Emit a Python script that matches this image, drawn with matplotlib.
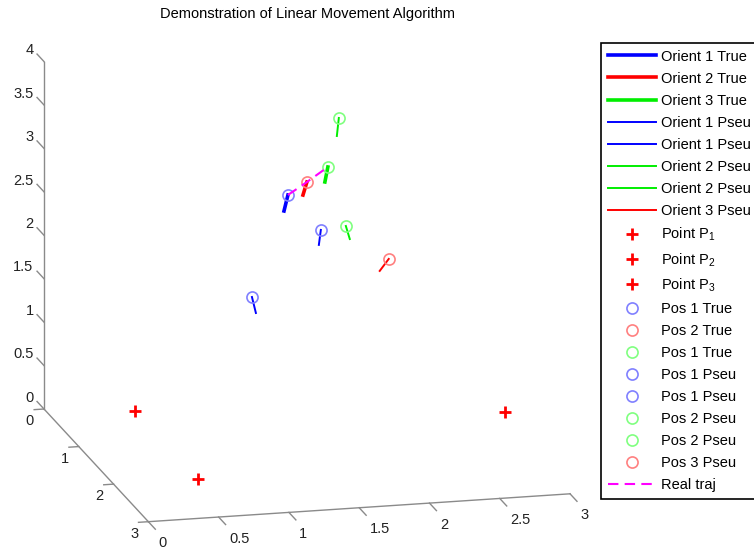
import numpy as np
import matplotlib
matplotlib.use('Agg')
from matplotlib import pyplot as plt
from mpl_toolkits.mplot3d import proj3d

plt.rcParams['font.family'] = ['Liberation Sans', 'DejaVu Sans']
plt.rcParams['mathtext.default'] = 'regular'

W, H = 754, 550

# positions (circle) and orientation tips, same order as the legend
posLabels = ['Pos 1 True', 'Pos 2 True', 'Pos 1 True', 'Pos 1 Pseu', 'Pos 1 Pseu',
             'Pos 2 Pseu', 'Pos 2 Pseu', 'Pos 3 Pseu']
orientLabels = ['Orient 1 True', 'Orient 2 True', 'Orient 3 True', 'Orient 1 Pseu',
                'Orient 1 Pseu', 'Orient 2 Pseu', 'Orient 2 Pseu', 'Orient 3 Pseu']
posColors = ['b', 'r', 'g', 'b', 'b', 'g', 'g', 'r']
posX = [1.488, 1.623, 1.772, 1.722, 1.232, 1.850, 1.900, 2.205]
posY = [1.0, 1.0, 1.0, 1.0, 1.0, 1.0, 1.0, 1.0]
posZ = [2.737, 2.872, 3.029, 2.310, 1.590, 3.585, 2.336, 1.924]
orientDX = [-0.028, -0.028, -0.021, -0.014, 0.028, -0.014, 0.028, -0.064]
orientDZ = [-0.181, -0.147, -0.170, -0.171, -0.187, -0.206, -0.153, -0.131]
isTrue = [True, True, True, False, False, False, False, False]

pointLabels = ['Point P$_1$', 'Point P$_2$', 'Point P$_3$']
pointX = [0.6, 0.6, 3.07]
pointY = [0.2, 2.0, 0.84]
pointZ = [0.0, 0.0, 0.0]

xTicks = [0, 0.5, 1, 1.5, 2, 2.5, 3]
xTickLabels = ['0', '0.5', '1', '1.5', '2', '2.5', '3']
yTicks = [0, 1, 2, 3]
zTicks = [0, 0.5, 1, 1.5, 2, 2.5, 3, 3.5, 4]
zTickLabels = ['0', '0.5', '1', '1.5', '2', '2.5', '3', '3.5', '4']

paleColors = {'b': '#8080ff', 'r': '#ff8080', 'g': '#80ff80'}
fullColors = {'b': '#0000ff', 'r': '#ff0000', 'g': '#00ee00'}

fig = plt.figure(figsize=(W / 100, H / 100), dpi=100)
ax = fig.add_axes([0.05, 0.05, 0.7, 0.9], projection='3d', proj_type='ortho')
ax.view_init(elev=-15.5, azim=-76.1, roll=0)
ax.set_box_aspect((1, 1, 0.83))
ax.set_xlim(0, 3)
ax.set_ylim(0, 3)
ax.set_zlim(0, 4)
ax.set_xticks([])
ax.set_yticks([])
ax.set_zticks([])
ax.set_axis_off()

# hand drawn axes, matlab style
axCol = '#8a8a8a'
tickCol = '#222222'
ax.plot([0, 3], [3, 3], [0, 0], color=axCol, lw=1)
ax.plot([0, 0], [0, 3], [0, 0], color=axCol, lw=1)
ax.plot([0, 0], [0, 0], [0, 4], color=axCol, lw=1)
for xv, xl in zip(xTicks, xTickLabels):
    ax.plot([xv, xv], [3, 3.2], [0, 0], color=axCol, lw=1)
    ax.text(xv, 3.3, -0.12, xl, ha='left', va='center', fontsize=10.5, color=tickCol)
for yv in yTicks:
    ax.plot([0, -0.07], [yv, yv], [0, 0], color=axCol, lw=1)
    ax.text(-0.1, yv, -0.13, str(yv), ha='center', va='center', fontsize=10.5, color=tickCol)
for zv, zl in zip(zTicks, zTickLabels):
    ax.plot([0, 0], [0, -0.2], [zv, zv], color=axCol, lw=1)
    ax.text(0, -0.3, zv, zl, ha='right', va='center', fontsize=10.5, color=tickCol)

# orientation lines
for i in range(len(posX)):
    c = fullColors[posColors[i]]
    ax.plot([posX[i], posX[i] + orientDX[i]], [posY[i], posY[i]], [posZ[i], posZ[i] + orientDZ[i]],
            color=c, lw=2.6 if isTrue[i] else 1.4, label=orientLabels[i])

for i in range(len(pointX)):
    ax.plot([pointX[i]], [pointY[i]], [pointZ[i]], '+', color='red', ms=8, mew=2,
            label=pointLabels[i])

for i in range(len(posX)):
    ax.plot([posX[i]], [posY[i]], [posZ[i]], 'o', mfc='none', mec=paleColors[posColors[i]],
            ms=8, mew=1.2, label=posLabels[i])

ax.plot(posX[:3], posY[:3], posZ[:3], '--', color='#ff00ff', lw=1.5, dashes=(5, 3),
        label='Real traj')

# place the 3d box where the reference has it
fig.canvas.draw()
def toDisp(xs, ys, zs):
    px, py, _ = proj3d.proj_transform(np.array(xs, float), np.array(ys, float),
                                      np.array(zs, float), ax.get_proj())
    return ax.transData.transform(np.column_stack([px, py]))

A, B = toDisp([0, 3], [0, 3], [0, 0])
At = np.array([44.0, H - 409.0])
Bt = np.array([570.0, H - 494.0])
r = np.linalg.norm(Bt - At) / np.linalg.norm(B - A)
bb = ax.get_position()
C = np.array([(bb.x0 + bb.x1) / 2 * W, (bb.y0 + bb.y1) / 2 * H])
side = bb.width * W * r
Cn = At - r * (A - C)
ax.set_position([(Cn[0] - side / 2) / W, (Cn[1] - side / 2) / H, side / W, side / H])

fig.text(308 / W, 1 - 14 / H, 'Demonstration of Linear Movement Algorithm',
         ha='center', va='center', fontsize=10.5)

handles, labels = ax.get_legend_handles_labels()
leg = fig.legend(handles, labels, loc='upper left', bbox_to_anchor=(601 / W, 1 - 43 / H),
                 bbox_transform=fig.transFigure, borderaxespad=0, fontsize=10.5,
                 handlelength=3.3, handletextpad=0.35, labelspacing=0.55,
                 borderpad=0.45, fancybox=False, framealpha=1, edgecolor='black')
leg.get_frame().set_linewidth(1.2)

fig.savefig('out.png', dpi=100)
